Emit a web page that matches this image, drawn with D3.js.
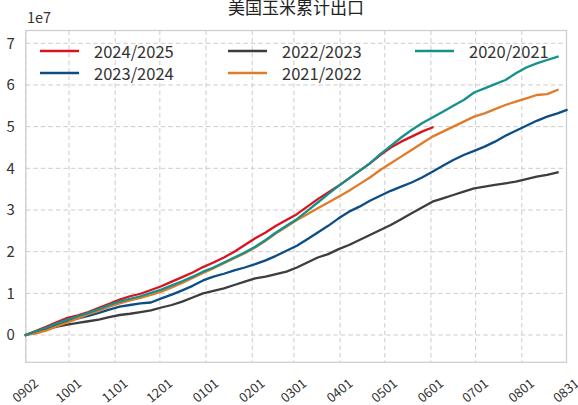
<!DOCTYPE html>
<html><head><meta charset="utf-8">
<script src="https://cdn.jsdelivr.net/npm/d3@7"></script>
<style>
html,body{margin:0;padding:0;background:#fff;}
svg{display:block;font-family:"Noto Sans CJK SC","Noto Sans",sans-serif;}
</style></head><body>
<svg id="chart" width="578" height="405"></svg>
<script>
// week dates (MMDD), Sept -> Aug
const weeks = ["0902","0909","0916","0923","0930","1007","1014","1021","1028","1104","1111","1118","1125",
  "1202","1209","1216","1223","1230","0106","0113","0120","0127","0203","0210","0217","0224",
  "0303","0310","0317","0324","0331","0407","0414","0421","0428","0505","0512","0519","0526",
  "0602","0609","0616","0623","0630","0707","0714","0721","0728","0804","0811","0818","0825","0831"];
const tickLabels = ["0902","1001","1101","1201","0101","0201","0301","0401","0501","0601","0701","0801","0831"];
const yTicks = [0,1,2,3,4,5,6,7];

// cumulative exports, units of 1e7
const s2024_2025 = [0,0.10,0.20,0.31,0.41,0.47,0.55,0.65,0.75,0.85,0.93,0.99,1.08,
  1.17,1.28,1.39,1.50,1.63,1.74,1.86,2.00,2.16,2.32,2.46,2.62,2.76,
  2.90,3.08,3.26,3.42,3.58,3.76,3.94,4.12,4.32,4.50,4.64,4.76,4.88,4.98];
const s2023_2024 = [0,0.08,0.16,0.25,0.34,0.40,0.46,0.53,0.61,0.68,0.72,0.76,0.78,
  0.88,0.97,1.07,1.18,1.31,1.40,1.47,1.55,1.62,1.70,1.79,1.90,2.02,
  2.14,2.30,2.46,2.62,2.80,2.96,3.08,3.22,3.34,3.46,3.56,3.66,3.78,
  3.92,4.06,4.20,4.32,4.42,4.52,4.64,4.78,4.90,5.02,5.14,5.24,5.32,5.40];
const s2022_2023 = [0,0.08,0.14,0.20,0.25,0.29,0.33,0.37,0.43,0.48,0.51,0.55,0.59,
  0.66,0.72,0.80,0.90,1.00,1.06,1.12,1.20,1.28,1.36,1.40,1.46,1.52,
  1.62,1.74,1.86,1.94,2.06,2.16,2.28,2.40,2.52,2.64,2.78,2.92,3.06,
  3.20,3.28,3.36,3.44,3.52,3.56,3.60,3.64,3.68,3.74,3.80,3.84,3.90];
const s2021_2022 = [0,0.04,0.11,0.21,0.30,0.40,0.50,0.58,0.68,0.76,0.83,0.89,0.96,
  1.04,1.14,1.25,1.37,1.49,1.60,1.72,1.84,1.96,2.10,2.26,2.44,2.60,
  2.76,2.90,3.04,3.18,3.32,3.46,3.62,3.78,3.96,4.12,4.28,4.44,4.60,
  4.76,4.88,5.00,5.12,5.24,5.32,5.42,5.52,5.60,5.68,5.76,5.78,5.88];
const s2020_2021 = [0,0.09,0.18,0.28,0.37,0.45,0.53,0.62,0.72,0.80,0.87,0.93,1.01,
  1.09,1.19,1.29,1.40,1.52,1.62,1.74,1.86,1.98,2.12,2.28,2.46,2.62,
  2.78,2.98,3.18,3.38,3.58,3.76,3.94,4.12,4.34,4.54,4.74,4.92,5.08,
  5.22,5.36,5.50,5.64,5.82,5.92,6.02,6.12,6.28,6.42,6.52,6.60,6.68];

const seriesNames = ["2024/2025","2023/2024","2022/2023","2021/2022","2020/2021"];
const seriesValues = [s2024_2025,s2023_2024,s2022_2023,s2021_2022,s2020_2021];
const colors = ["#d7141f","#0c4d86","#3d3d3d","#e07b2a","#13918a"];

const parseMD = md => {
  const m = +md.slice(0,2), d = +md.slice(2);
  return new Date(m >= 9 ? 2024 : 2025, m-1, d);
};

const svg = d3.select("#chart");
const L = 25.8, R = 566.5, T = 30.5, B = 362.3;
const x = d3.scaleTime().domain([parseMD("0902"), parseMD("0831")]).range([L, R]);
const y = d3.scaleLinear().domain([(335 - B) / 41.67, (335 - T) / 41.67]).range([B, T]);

// grid
const grid = svg.append("g");
grid.selectAll("line.v").data(tickLabels).join("line")
  .attr("x1", d => x(parseMD(d))).attr("x2", d => x(parseMD(d)))
  .attr("y1", T).attr("y2", B)
  .attr("stroke", "#cccccc").attr("stroke-width", 1).attr("stroke-dasharray", "4.5,3");
grid.selectAll("line.h").data(yTicks).join("line")
  .attr("x1", L).attr("x2", R)
  .attr("y1", d => y(d)).attr("y2", d => y(d))
  .attr("stroke", "#cccccc").attr("stroke-width", 1).attr("stroke-dasharray", "4.5,3");

// frame
svg.append("rect").attr("x", L).attr("y", T).attr("width", R-L).attr("height", B-T)
  .attr("fill", "none").attr("stroke", "#cfcfcf").attr("stroke-width", 1.3);

// y axis labels
const yAxis = d3.axisLeft(y).tickValues(yTicks).tickSize(0).tickPadding(11).tickFormat(d3.format("d"));
const gy = svg.append("g").attr("transform", `translate(${L},0)`).call(yAxis);
gy.select(".domain").remove();
gy.selectAll("text").attr("font-size", 15).attr("fill", "#333").attr("font-family", '"Noto Sans CJK SC",sans-serif');

// x axis labels (rotated)
const gx = svg.append("g");
gx.selectAll("g").data(tickLabels).join("g")
  .attr("transform", d => `translate(${x(parseMD(d)) - 1},${B + 27.5})`)
  .append("text")
  .attr("transform", "rotate(-40)")
  .attr("text-anchor", "middle").attr("dominant-baseline", "central")
  .attr("font-size", 13).attr("fill", "#333")
  .text(d => d);

// lines
const lines = svg.append("g");
seriesValues.forEach((vals, k) => {
  lines.append("path").datum(vals)
    .attr("d", d3.line().x((d,i) => x(parseMD(weeks[i]))).y(d => y(d)))
    .attr("fill", "none").attr("stroke", colors[k]).attr("stroke-width", 2.3)
    .attr("stroke-linejoin", "round").attr("stroke-linecap", "square");
});

// legend: 3 columns, filled column-wise
const legendPos = [[40,51],[40,73],[228,51],[228,73],[415,51]];
const lg = svg.append("g");
seriesNames.forEach((n,k) => {
  const [lx, ly] = legendPos[k];
  lg.append("line").attr("x1", lx).attr("x2", lx+39).attr("y1", ly).attr("y2", ly)
    .attr("stroke", colors[k]).attr("stroke-width", 2.6);
  lg.append("text").attr("x", lx+54).attr("y", ly).attr("dominant-baseline", "central")
    .attr("font-size", 16.5).attr("fill", "#333").text(n);
});

// title & offset
svg.append("text").attr("x", 296).attr("y", 14).attr("text-anchor", "middle")
  .attr("font-size", 17).attr("fill", "#222").text("美国玉米累计出口");
svg.append("text").attr("x", 27).attr("y", 23)
  .attr("font-size", 14.5).attr("fill", "#333").text("1e7");
</script>
</body></html>
